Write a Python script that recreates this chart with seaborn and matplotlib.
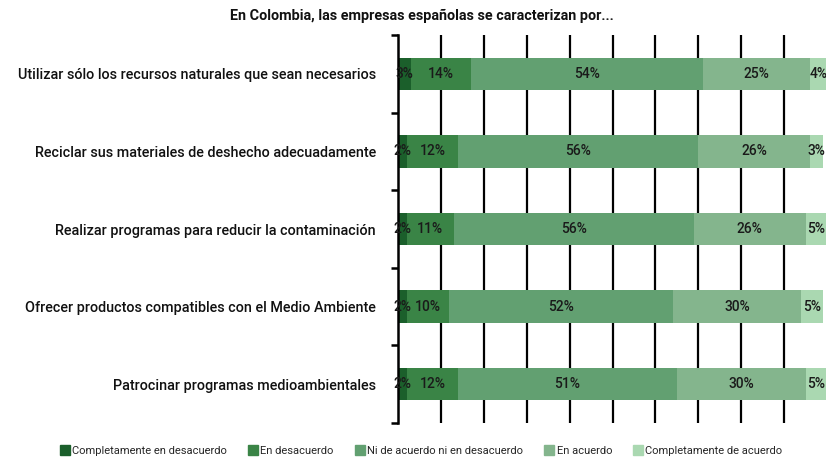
import numpy as np
import pandas as pd
import matplotlib
matplotlib.use('Agg')
import matplotlib.pyplot as plt
import matplotlib.patches as mpatches
import seaborn as sns

# data
categories = [
    'Utilizar sólo los recursos naturales que sean necesarios',
    'Reciclar sus materiales de deshecho adecuadamente',
    'Realizar programas para reducir la contaminación',
    'Ofrecer productos compatibles con el Medio Ambiente',
    'Patrocinar programas medioambientales',
]
series_names = [
    'Completamente en desacuerdo',
    'En desacuerdo',
    'Ni de acuerdo ni en desacuerdo',
    'En acuerdo',
    'Completamente de acuerdo',
]
completamente_desacuerdo = [3, 2, 2, 2, 2]
en_desacuerdo = [14, 12, 11, 10, 12]
ni_ni = [54, 56, 56, 52, 51]
en_acuerdo = [25, 26, 26, 30, 30]
completamente_acuerdo = [4, 3, 5, 5, 5]
colors = ['#1b5f2b', '#3a8446', '#62a071', '#84b58d', '#aad8b1']

series_values = [completamente_desacuerdo, en_desacuerdo, ni_ni, en_acuerdo, completamente_acuerdo]
df = pd.DataFrame(dict(zip(series_names, series_values)), index=categories)
cum = df.cumsum(axis=1)

sns.set_theme(style='white')
plt.rcParams['font.family'] = ['Roboto', 'DejaVu Sans']

fig = plt.figure(figsize=(8.26, 4.57), dpi=100)
ax = fig.add_axes([398 / 826, 1 - 423 / 457, 429 / 826, (423 - 35) / 457])

# vertical grid lines behind the bars
for x in range(10, 100, 10):
    ax.axvline(x, color='black', lw=1.6, zorder=0)

# stacked bars: draw cumulative totals from the right-most series back
for name, col in reversed(list(zip(series_names, colors))):
    plot_df = pd.DataFrame({'cat': categories, 'val': cum[name].values})
    sns.barplot(data=plot_df, x='val', y='cat', orient='h', color=col,
                width=0.42, saturation=1, linewidth=0, edgecolor=col, ax=ax, zorder=2)

# value labels centered in each segment
for i, cat in enumerate(categories):
    left = 0
    for name in series_names:
        v = df.loc[cat, name]
        ax.text(left + v / 2, i, f'{v}%', ha='center', va='center',
                fontsize=10, fontweight='medium', color='#1a1a1a', zorder=3)
        left += v

ax.set_xlim(0, 100)
ax.set_ylim(4.5, -0.5)
ax.set_xlabel('')
ax.set_ylabel('')
ax.set_xticks([])
ax.set_yticks(range(len(categories)))
ax.set_yticklabels(categories, fontsize=10.4, fontweight='medium', color='#111111')
ax.tick_params(axis='y', which='major', length=0, pad=16)
ax.set_yticks(np.arange(-0.5, 5, 1), minor=True)
ax.tick_params(axis='y', which='minor', length=5, width=1.8, color='black', left=True)
for side in ['top', 'right', 'bottom']:
    ax.spines[side].set_visible(False)
ax.spines['left'].set_color('black')
ax.spines['left'].set_linewidth(1.8)

fig.text(0.511, 0.965, 'En Colombia, las empresas españolas se caracterizan por...',
         ha='center', va='center', fontsize=10.4, fontweight='bold', color='#111111')

handles = [mpatches.Patch(color=c, label=n) for n, c in zip(series_names, colors)]
fig.legend(handles=handles, loc='center', bbox_to_anchor=(0.51, 0.014), ncol=5,
           frameon=False, fontsize=8, handlelength=0.9, handleheight=0.9,
           handletextpad=0.2, columnspacing=1.9)

fig.savefig('out.png', dpi=100)
